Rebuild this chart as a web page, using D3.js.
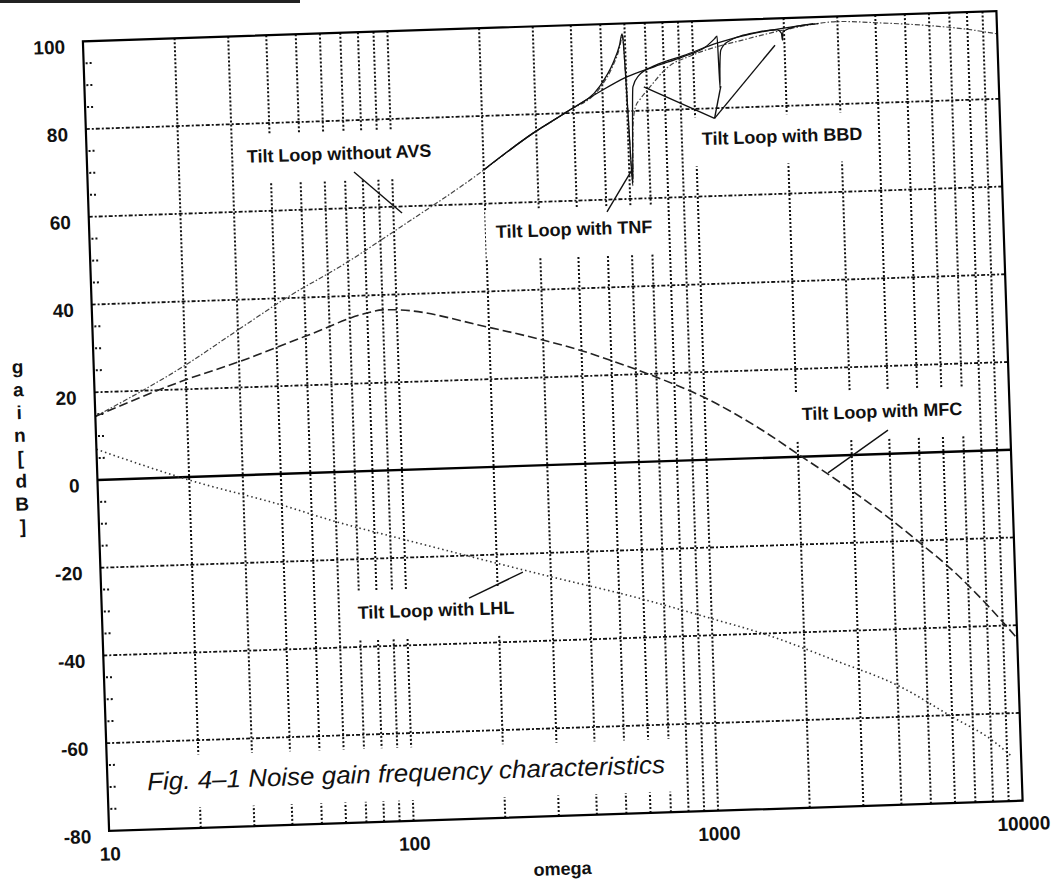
<!DOCTYPE html>
<html>
<head>
<meta charset="utf-8">
<script src="https://cdn.jsdelivr.net/npm/d3@7"></script>
<style>
  body { margin: 0; background: #fff; }
  svg { display: block; }
  text { font-family: "Liberation Sans", Arial, Helvetica, sans-serif; fill: #111; }
</style>
</head>
<body>
<svg></svg>
<script>
// ---- data (omega, gain dB) ----
var omegaTicks = [10, 100, 1000, 10000];
var gainTicks = [-80, -60, -40, -20, 0, 20, 40, 60, 80, 100];
var yTitle = ["g", "a", "i", "n", "[", "d", "B", "]"];

var avs = [[10,14.5],[20,25.5],[30,33.1],[42.5,39.6],[70,47.8],[105,55.3],[180,65.5],[293,75.7],[380,80.3],
  [491,85.5],[545,90.5],[575,94.5],[586,96.8],[590,97.4],[596,91],[604,78],[610,67],[614,63],[619,70],
  [625,77],[640,81],[663,82.6],[720,85.5],[817,89.5],[1000,92.3],[1500,95.5],[2000,97.3],[3000,98.8],
  [4100,98.2],[6000,97.2],[7940,96.1],[10000,94.8]];
var tnf = [[200,67.7],[293,75.7],[380,80.3],[491,85.9],[545,91],[575,95],[588,97.6],[592,96],[598,88],[605,76],
  [611,66],[614,63.5],[618,69],[623,78],[630,85.5],[660,88],[750,90.2],[929,92.2],[1200,94.8],
  [1600,96.8],[2000,97.7],[2500,98.5]];
var bbd = [[200,67.7],[293,75.7],[380,80.3],[480,84.3],[603,87.8],[750,90],[929,92],[1100,94],[1180,95.8],[1205,96.4],
  [1211,90],[1216,84.6],[1221,89],[1235,93.2],[1300,95],[1667,97.1],[1900,97.4],[1960,96.6],[1972,95],
  [1984,96.9],[2200,98],[2600,98.5]];
var mfc = [[10,14.5],[19.85,22.1],[29.8,25.8],[50,31.2],[80,36],[90,36.6],[100,36.5],[200,31.8],[300,28.5],
  [400,25.8],[500,23.3],[700,19.2],[1000,14.2],[1500,6.8],[2000,0.6],[3000,-8.3],[4000,-15.2],[5000,-21],
  [6300,-27.3],[8000,-35],[10000,-43]];
var lhl = [[10,7],[20,-0.7],[40,-7.1],[60,-11.3],[97,-15.6],[298,-25.4],[555,-30.6],[1000,-36.2],
  [1508,-40.3],[2500,-46.6],[4076,-53.1],[6000,-60.4],[8064,-66],[9300,-69.8]];

var labels = [
  {text: "Tilt Loop without AVS", at: [33.5, 71.1]},
  {text: "Tilt Loop with TNF", at: [215.7, 52.1]},
  {text: "Tilt Loop with BBD", at: [1046, 71.7]},
  {text: "Tilt Loop with MFC", at: [2078, 8.3]},
  {text: "Tilt Loop with LHL", at: [69.1, -33.6]}
];
var leaders = [
  [[75, 68.2], [106.7, 58.5]],
  [[502, 57.2], [617.8, 67]],
  [[1158, 77.7], [684, 85.4]],
  [[1158, 77.7], [1224, 85]],
  [[1158, 77.7], [1862, 93.9]],
  [[3970, 5.4], [2496, -3.9]],
  [[160.7, -29.7], [243, -24.2]]
];
var caption = {text: "Fig. 4\u20131 Noise gain frequency characteristics", at: [13.5, -71]};

// ---- layout ----
var width = 1052, height = 879;
var W = 914, H = 790;

var svg = d3.select("svg").attr("width", width).attr("height", height);
svg.append("rect").attr("width", width).attr("height", height).attr("fill", "#fff");

// scrap of the header line cut off by the scan
svg.append("rect").attr("x", 0).attr("y", 0).attr("width", 300).attr("height", 3).attr("fill", "#222");

// the page was scanned a little crooked
var g = svg.append("g")
  .attr("transform", "rotate(-1.9,552.75,421) translate(95.75,26)");

var x = d3.scaleLog().domain([10, 10000]).range([0, W]);
var y = d3.scaleLinear().domain([-80, 100]).range([H, 0]);

var gridG = g.append("g");
var boxG = g.append("g");
var curveG = g.append("g");
var textG = g.append("g");

// vertical grid
gridG.selectAll(".vg")
  .data(x.ticks().filter(function(d) { return d > 10 && d < 10000; }))
  .enter().append("line")
  .attr("x1", function(d) { return x(d); })
  .attr("x2", function(d) { return x(d); })
  .attr("y1", 0).attr("y2", H)
  .attr("stroke", "#111").attr("stroke-width", 2)
  .attr("stroke-dasharray", "2,2");

// horizontal grid
gridG.selectAll(".hg")
  .data(gainTicks.filter(function(d) { return d != -80 && d != 0 && d != 100; }))
  .enter().append("line")
  .attr("x1", 0).attr("x2", W)
  .attr("y1", function(d) { return y(d); })
  .attr("y2", function(d) { return y(d); })
  .attr("stroke", "#111").attr("stroke-width", 1.8)
  .attr("stroke-dasharray", "4,2,2,2");

// minor ticks on the left axis
gridG.selectAll(".mt")
  .data(d3.range(-75, 100, 5).filter(function(d) { return d % 20 != 0; }))
  .enter().append("line")
  .attr("x1", 2).attr("x2", 9)
  .attr("y1", function(d) { return y(d); })
  .attr("y2", function(d) { return y(d); })
  .attr("stroke", "#111").attr("stroke-width", 2)
  .attr("stroke-dasharray", "2,2");

// 0 dB line
gridG.append("line")
  .attr("x1", 0).attr("x2", W)
  .attr("y1", y(0)).attr("y2", y(0))
  .attr("stroke", "#000").attr("stroke-width", 2.4);

// curves
var line = d3.line()
  .x(function(d) { return x(d[0]); })
  .y(function(d) { return y(d[1]); })
  .curve(d3.curveMonotoneX);

var series = [
  {data: avs, color: "#444", w: 1.2, dash: "5,2,1.5,2"},
  {data: tnf, color: "#111", w: 1.3, dash: null},
  {data: bbd, color: "#111", w: 1.3, dash: null},
  {data: mfc, color: "#222", w: 1.6, dash: "9,4"},
  {data: lhl, color: "#333", w: 1.6, dash: "1.5,3"}
];

// label texts first (so boxes can be measured)
labels.forEach(function(l) {
  var t = textG.append("text")
    .attr("x", x(l.at[0])).attr("y", y(l.at[1]))
    .attr("font-size", 18).attr("font-weight", "bold")
    .text(l.text);
  var b = t.node().getBBox();
  boxG.append("rect")
    .attr("x", b.x - 10).attr("y", b.y - 12)
    .attr("width", b.width + 20).attr("height", b.height + 29)
    .attr("fill", "#fff");
});

var cap = textG.append("text")
  .attr("x", x(caption.at[0])).attr("y", y(caption.at[1]))
  .attr("font-size", 25).attr("font-style", "italic")
  .attr("textLength", 518).attr("lengthAdjust", "spacingAndGlyphs")
  .text(caption.text);
var cb = cap.node().getBBox();
boxG.append("rect")
  .attr("x", cb.x - 10).attr("y", cb.y - 11)
  .attr("width", cb.width + 20).attr("height", cb.height + 25)
  .attr("fill", "#fff");

series.forEach(function(s) {
  curveG.append("path")
    .attr("d", line(s.data))
    .attr("fill", "none")
    .attr("stroke", s.color)
    .attr("stroke-width", s.w)
    .attr("stroke-dasharray", s.dash);
});

// leader lines
curveG.selectAll(".ld")
  .data(leaders)
  .enter().append("line")
  .attr("x1", function(d) { return x(d[0][0]); })
  .attr("y1", function(d) { return y(d[0][1]); })
  .attr("x2", function(d) { return x(d[1][0]); })
  .attr("y2", function(d) { return y(d[1][1]); })
  .attr("stroke", "#111").attr("stroke-width", 1.4);

// frame
g.append("rect")
  .attr("x", 0).attr("y", 0).attr("width", W).attr("height", H)
  .attr("fill", "none").attr("stroke", "#000").attr("stroke-width", 2.2);

// axes (labels only), plain hyphen minus like the original
var yAxis = g.append("g")
  .call(d3.axisLeft(y).tickValues(gainTicks).tickFormat(function(d) { return String(d); })
    .tickSize(0).tickPadding(18));
var xAxis = g.append("g")
  .attr("transform", "translate(0," + H + ")")
  .call(d3.axisBottom(x).tickValues(omegaTicks).tickFormat(function(d) { return String(d); })
    .tickSize(0).tickPadding(16));
[yAxis, xAxis].forEach(function(a) {
  a.select(".domain").remove();
  a.selectAll("text")
    .attr("font-size", 19).attr("font-weight", "bold")
    .attr("font-family", "'Liberation Sans', Arial, Helvetica, sans-serif")
    .attr("fill", "#111");
});
yAxis.selectAll("text").attr("dy", "0.58em");

// axis titles
g.append("text")
  .attr("x", W / 2 - 5).attr("y", H + 59)
  .attr("text-anchor", "middle")
  .attr("font-size", 18).attr("font-weight", "bold")
  .text("omega");

g.selectAll(".yt")
  .data(yTitle)
  .enter().append("text")
  .attr("x", -76)
  .attr("y", function(d, i) { return H / 2 + 8 + (i - 3.5) * 22.85; })
  .attr("dy", "0.35em")
  .attr("text-anchor", "middle")
  .attr("font-size", 19).attr("font-weight", "bold")
  .text(function(d) { return d; });
</script>
</body>
</html>
